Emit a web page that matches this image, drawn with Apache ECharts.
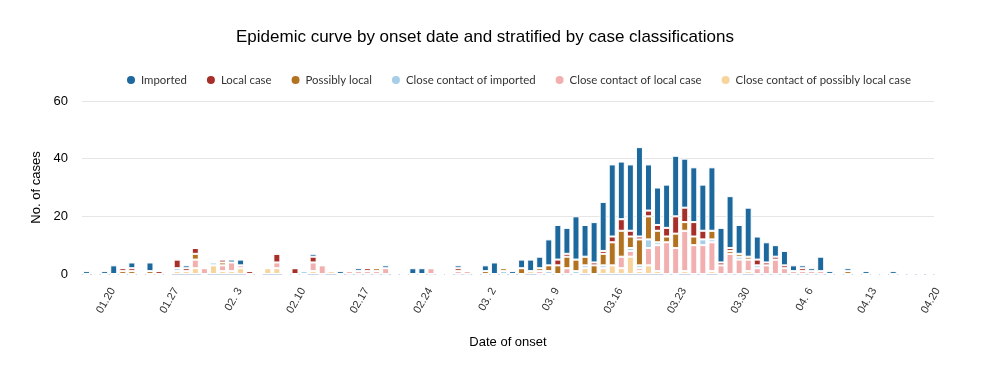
<!DOCTYPE html>
<html>
<head>
<meta charset="utf-8">
<title>Epidemic curve</title>
<script src="https://cdn.jsdelivr.net/npm/echarts@6/dist/echarts.min.js"></script>
<style>
  html, body { margin: 0; padding: 0; background: #fff; }
  #chart { width: 1000px; height: 377px; }
</style>
</head>
<body>
<div id="chart"></div>
<script>
// onset dates, 01.18 .. 04.20
var dates = [
  '01.18', '01.19', '01.20', '01.21', '01.22', '01.23', '01.24', '01.25', '01.26', '01.27',
  '01.28', '01.29', '01.30', '01.31', '02. 1', '02. 2', '02. 3', '02. 4', '02. 5', '02. 6',
  '02. 7', '02. 8', '02. 9', '02.10', '02.11', '02.12', '02.13', '02.14', '02.15', '02.16',
  '02.17', '02.18', '02.19', '02.20', '02.21', '02.22', '02.23', '02.24', '02.25', '02.26',
  '02.27', '02.28', '02.29', '03. 1', '03. 2', '03. 3', '03. 4', '03. 5', '03. 6', '03. 7',
  '03. 8', '03. 9', '03.10', '03.11', '03.12', '03.13', '03.14', '03.15', '03.16', '03.17',
  '03.18', '03.19', '03.20', '03.21', '03.22', '03.23', '03.24', '03.25', '03.26', '03.27',
  '03.28', '03.29', '03.30', '03.31', '04. 1', '04. 2', '04. 3', '04. 4', '04. 5', '04. 6',
  '04. 7', '04. 8', '04. 9', '04.10', '04.11', '04.12', '04.13', '04.14', '04.15', '04.16',
  '04.17', '04.18', '04.19', '04.20'
];

var imported = [
  1, 0, 1, 3, 0, 2, 0, 3, 0, 0,
  0, 1, 0, 0, 0, 0, 1, 2, 0, 0,
  0, 0, 0, 0, 0, 1, 0, 0, 1, 0,
  1, 0, 0, 1, 0, 0, 2, 2, 0, 0,
  0, 1, 0, 0, 2, 4, 0, 1, 3, 4,
  4, 9, 12, 9, 15, 11, 14, 17, 25, 20,
  23, 31, 16, 13, 15, 21, 17, 19, 16, 22,
  12, 18, 10, 17, 8, 7, 4, 5, 2, 1,
  1, 5, 1, 0, 1, 0, 1, 0, 0, 1,
  0, 0, 0, 0
];
var localCase = [
  0, 0, 0, 0, 1, 1, 0, 0, 1, 0,
  3, 1, 2, 0, 0, 1, 0, 0, 1, 0,
  0, 3, 0, 2, 0, 2, 0, 0, 0, 0,
  0, 1, 0, 0, 0, 0, 0, 0, 0, 0,
  0, 1, 0, 0, 0, 0, 0, 0, 0, 0,
  0, 0, 2, 1, 0, 0, 1, 1, 2, 4,
  2, 1, 2, 2, 3, 6, 5, 5, 3, 0,
  1, 1, 0, 0, 2, 1, 1, 1, 0, 1,
  0, 0, 0, 0, 0, 0, 0, 0, 0, 0,
  0, 0, 0, 0
];
var possiblyLocal = [
  0, 0, 0, 0, 1, 1, 0, 1, 0, 0,
  0, 0, 2, 0, 0, 1, 0, 0, 0, 0,
  0, 0, 0, 0, 0, 0, 0, 0, 0, 0,
  0, 0, 1, 0, 0, 0, 0, 0, 0, 0,
  0, 0, 0, 0, 1, 0, 1, 0, 2, 0,
  1, 2, 3, 4, 4, 3, 3, 4, 8, 9,
  4, 9, 8, 4, 2, 5, 3, 3, 0, 3,
  0, 1, 1, 1, 0, 0, 0, 0, 0, 0,
  0, 0, 0, 0, 1, 0, 0, 0, 0, 0,
  0, 0, 0, 0
];
var ccImported = [
  0, 0, 0, 0, 0, 0, 0, 0, 0, 0,
  1, 0, 0, 0, 1, 0, 0, 0, 0, 0,
  0, 0, 0, 0, 1, 0, 0, 0, 0, 0,
  0, 0, 0, 0, 0, 0, 0, 0, 0, 0,
  0, 0, 0, 0, 0, 0, 1, 0, 0, 0,
  0, 1, 0, 0, 1, 1, 0, 1, 0, 0,
  1, 1, 3, 1, 0, 0, 0, 0, 2, 1,
  0, 0, 1, 0, 1, 0, 0, 0, 0, 0,
  0, 0, 0, 0, 0, 0, 0, 0, 0, 0,
  0, 0, 0, 0
];
var ccLocal = [
  0, 0, 0, 0, 0, 0, 0, 0, 0, 0,
  0, 0, 3, 2, 0, 2, 3, 1, 0, 0,
  0, 2, 0, 0, 0, 3, 3, 0, 0, 1,
  1, 1, 1, 2, 0, 0, 0, 0, 2, 0,
  0, 1, 1, 0, 0, 0, 0, 0, 0, 0,
  1, 0, 0, 2, 0, 0, 0, 0, 0, 4,
  2, 1, 6, 9, 11, 9, 14, 10, 10, 10,
  3, 7, 5, 4, 2, 3, 5, 2, 1, 1,
  1, 1, 0, 0, 0, 0, 0, 0, 0, 0,
  0, 0, 0, 0
];
var ccPossiblyLocal = [
  0, 0, 0, 0, 0, 0, 0, 0, 0, 0,
  1, 1, 2, 0, 3, 1, 1, 2, 0, 0,
  2, 2, 0, 0, 0, 1, 0, 1, 0, 0,
  0, 0, 0, 0, 0, 0, 0, 0, 0, 0,
  0, 0, 0, 0, 0, 0, 0, 0, 0, 1,
  0, 0, 0, 0, 0, 2, 0, 2, 3, 2,
  6, 1, 3, 1, 0, 0, 1, 0, 0, 1,
  0, 0, 0, 1, 0, 0, 0, 0, 0, 0,
  0, 0, 0, 0, 0, 0, 0, 0, 0, 0,
  0, 0, 0, 0
];

var legendNames = ['Imported', 'Local case', 'Possibly local', 'Close contact of imported', 'Close contact of local case', 'Close contact of possibly local case'];

// stacked bottom -> top
var stackSeries = [
  { name: 'Close contact of possibly local case', data: ccPossiblyLocal, color: '#f7d49b' },
  { name: 'Close contact of local case', data: ccLocal, color: '#f1b0af' },
  { name: 'Close contact of imported', data: ccImported, color: '#a6cfe7' },
  { name: 'Possibly local', data: possiblyLocal, color: '#b3721f' },
  { name: 'Local case', data: localCase, color: '#a72f2a' },
  { name: 'Imported', data: imported, color: '#1d699e' }
];

var tickEvery = function (idx) { return (idx - 2) % 7 === 0; };

var chart = echarts.init(document.getElementById('chart'));
chart.setOption({
  animation: false,
  title: {
    text: 'Epidemic curve by onset date and stratified by case classifications',
    left: 231, top: 24,
    textStyle: { fontFamily: 'Liberation Sans', fontSize: 17, fontWeight: 'normal', color: '#000' }
  },
  legend: {
    data: legendNames,
    left: 120, top: 69,
    icon: 'circle', itemWidth: 10, itemHeight: 10, itemGap: 18,
    textStyle: { fontFamily: 'Lato', fontSize: 11.4, color: '#333' }
  },
  grid: { left: 82, right: 66, top: 101, bottom: 103, containLabel: false },
  xAxis: {
    type: 'category',
    data: dates,
    name: 'Date of onset', nameLocation: 'middle', nameGap: 62,
    nameTextStyle: { fontFamily: 'Liberation Sans', fontSize: 13, color: '#000' },
    axisLine: { lineStyle: { color: '#ccd6eb' } },
    axisTick: { alignWithLabel: true, interval: tickEvery, length: 9, lineStyle: { color: '#ccd6eb' } },
    axisLabel: {
      interval: tickEvery, rotate: 60, margin: 10, verticalAlign: 'top', padding: [4, 0, 0, 0],
      fontFamily: 'Liberation Sans', fontSize: 11, color: '#333'
    }
  },
  yAxis: {
    type: 'value', min: 0, max: 60, interval: 20,
    name: 'No. of cases', nameLocation: 'middle', nameGap: 32, nameRotate: 90,
    nameTextStyle: { fontFamily: 'Liberation Sans', fontSize: 13, color: '#000' },
    axisLine: { show: false }, axisTick: { show: false },
    axisLabel: { fontFamily: 'Liberation Sans', fontSize: 13, color: '#000', margin: 14 },
    splitLine: { lineStyle: { color: '#e6e6e6' } }
  },
  series: stackSeries.map(function (s) {
    return {
      name: s.name, type: 'bar', stack: 'cases', data: s.data,
      barWidth: 7,
      itemStyle: { color: s.color, borderColor: '#fff', borderWidth: 1 }
    };
  })
});
</script>
</body>
</html>
